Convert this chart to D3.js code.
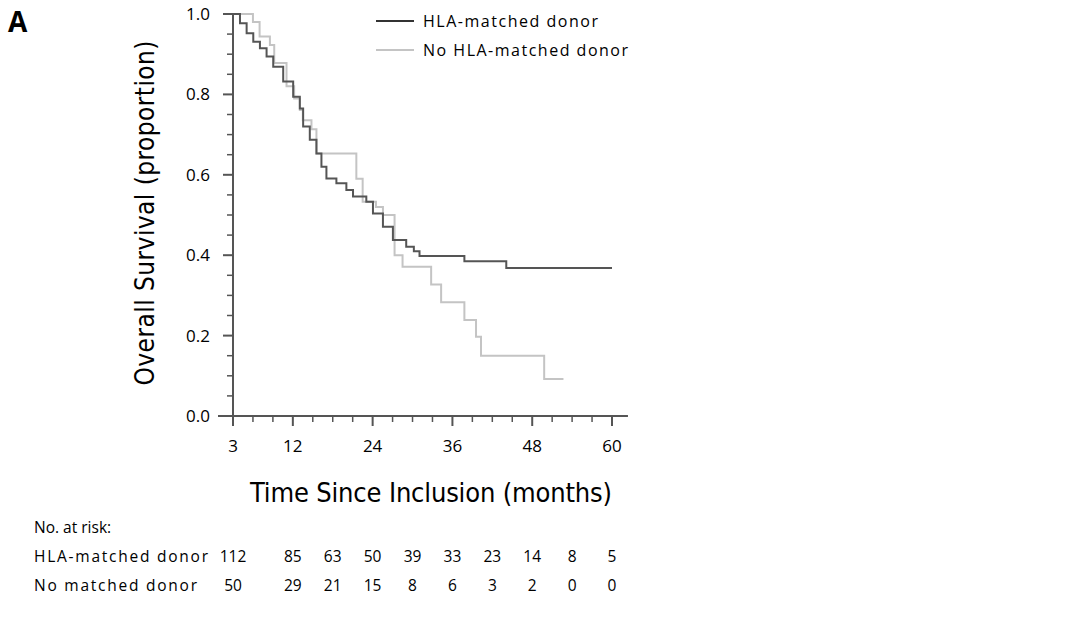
<!DOCTYPE html>
<html><head><meta charset="utf-8">
<script src="https://cdn.jsdelivr.net/npm/d3@7"></script>
<style>body{margin:0;background:#fff}</style>
</head><body>
<script>
// KM steps: [month, survival]
var matched = [[3,1],[4.05,0.977],[5.05,0.952],[6.05,0.931],[7.05,0.915],[8.05,0.894],[9.05,0.869],[10.55,0.832],[12.05,0.794],[13.05,0.765],[13.55,0.72],[14.55,0.687],[15.55,0.653],[16.3,0.62],[17.05,0.591],[18.55,0.579],[20.05,0.562],[21.05,0.546],[23.05,0.533],[24.05,0.504],[25.55,0.471],[27.05,0.438],[29.05,0.421],[30.2,0.41],[31.05,0.398],[37.8,0.385],[44.1,0.368],[60,0.368]];
var unmatched = [[3,1],[6,0.98],[7,0.944],[8.55,0.923],[9.2,0.878],[11.05,0.82],[12.2,0.79],[13.05,0.761],[13.5,0.736],[14.8,0.713],[15.55,0.653],[21.55,0.59],[22.5,0.533],[24.5,0.52],[25.55,0.5],[27.3,0.4],[28.5,0.371],[32.8,0.327],[34.3,0.283],[37.8,0.239],[39.55,0.197],[40.3,0.15],[49.8,0.092],[52.7,0.092]];
var xTicks = [3,12,24,36,48,60];
var yTicks = [0,0.2,0.4,0.6,0.8,1.0];
var riskMonths = [3,12,18,24,30,36,42,48,54,60];
var riskMatched = [112,85,63,50,39,33,23,14,8,5];
var riskUnmatched = [50,29,21,15,8,6,3,2,0,0];

var W = 1080, H = 625, font = "Open Sans, Liberation Sans, sans-serif";
var svg = d3.select("body").append("svg").attr("width", W).attr("height", H);
var x = d3.scaleLinear().domain([3,60]).range([233,612]);
var y = d3.scaleLinear().domain([0,1]).range([416,14]);
var axc = "#555";

// axes
svg.append("line").attr("x1", 218).attr("x2", x(62.4)).attr("y1", y(0)).attr("y2", y(0)).attr("stroke", axc).attr("stroke-width", 2);
svg.append("line").attr("x1", x(3)).attr("x2", x(3)).attr("y1", y(0)).attr("y2", y(1)).attr("stroke", axc).attr("stroke-width", 2);
d3.range(3, 61, 3).forEach(function(m){
  var major = xTicks.indexOf(m) >= 0;
  svg.append("line").attr("x1", x(m)).attr("x2", x(m)).attr("y1", y(0)).attr("y2", y(0) + (major ? 10 : 6)).attr("stroke", axc).attr("stroke-width", major ? 2 : 1.5);
});
d3.range(0, 21).forEach(function(i){
  var v = i * 0.05, major = i % 4 === 0;
  svg.append("line").attr("x1", x(3)).attr("x2", x(3) - (major ? 10 : 6)).attr("y1", y(v)).attr("y2", y(v)).attr("stroke", axc).attr("stroke-width", major ? 2 : 1.5);
});
svg.selectAll(".xt").data(xTicks).enter().append("text").attr("x", d => x(d)).attr("y", 452)
  .attr("text-anchor", "middle").attr("font-family", font).attr("font-size", 17).text(d => d);
svg.selectAll(".yt").data(yTicks).enter().append("text").attr("x", 210).attr("y", d => y(d) + 6)
  .attr("text-anchor", "end").attr("font-family", font).attr("font-size", 17).text(d => d.toFixed(1));

svg.append("text").attr("x", 431).attr("y", 502).attr("text-anchor", "middle")
  .attr("font-family", "DejaVu Sans Condensed, sans-serif").attr("font-size", 27).attr("textLength", 362).text("Time Since Inclusion (months)");
svg.append("text").attr("transform", "translate(154,213) rotate(-90)").attr("text-anchor", "middle")
  .attr("font-family", "DejaVu Sans Condensed, sans-serif").attr("font-size", 26).attr("textLength", 345).text("Overall Survival (proportion)");
svg.append("text").attr("x", 8).attr("y", 32).attr("font-family", font).attr("font-weight", "bold").attr("font-size", 28).text("A");

// curves
var line = d3.line().x(d => x(d[0])).y(d => y(d[1])).curve(d3.curveStepAfter);
svg.append("path").datum(unmatched).attr("d", line).attr("fill", "none").attr("stroke", "#c4c4c4").attr("stroke-width", 2);
svg.append("path").datum(matched).attr("d", line).attr("fill", "none").attr("stroke", "#555").attr("stroke-width", 2);

// legend
[["HLA-matched donor", "#333", 21, 175], ["No HLA-matched donor", "#c4c4c4", 50, 205]].forEach(function(l){
  svg.append("line").attr("x1", 376).attr("x2", 414).attr("y1", l[2]).attr("y2", l[2]).attr("stroke", l[1]).attr("stroke-width", 2);
  svg.append("text").attr("x", 423).attr("y", l[2] + 6).attr("font-family", font).attr("font-size", 16).attr("textLength", l[3]).text(l[0]);
});

// risk table
svg.append("text").attr("x", 34).attr("y", 533).attr("font-family", font).attr("font-size", 15.5).text("No. at risk:");
[["HLA-matched donor", riskMatched, 562, 174], ["No matched donor", riskUnmatched, 591, 163]].forEach(function(r){
  svg.append("text").attr("x", 34).attr("y", r[2]).attr("font-family", font).attr("font-size", 15.5).attr("textLength", r[3]).text(r[0]);
  r[1].forEach(function(n, i){
    svg.append("text").attr("x", x(riskMonths[i])).attr("y", r[2]).attr("text-anchor", "middle")
      .attr("font-family", font).attr("font-size", 15.5).text(n);
  });
});
</script>
</body></html>
